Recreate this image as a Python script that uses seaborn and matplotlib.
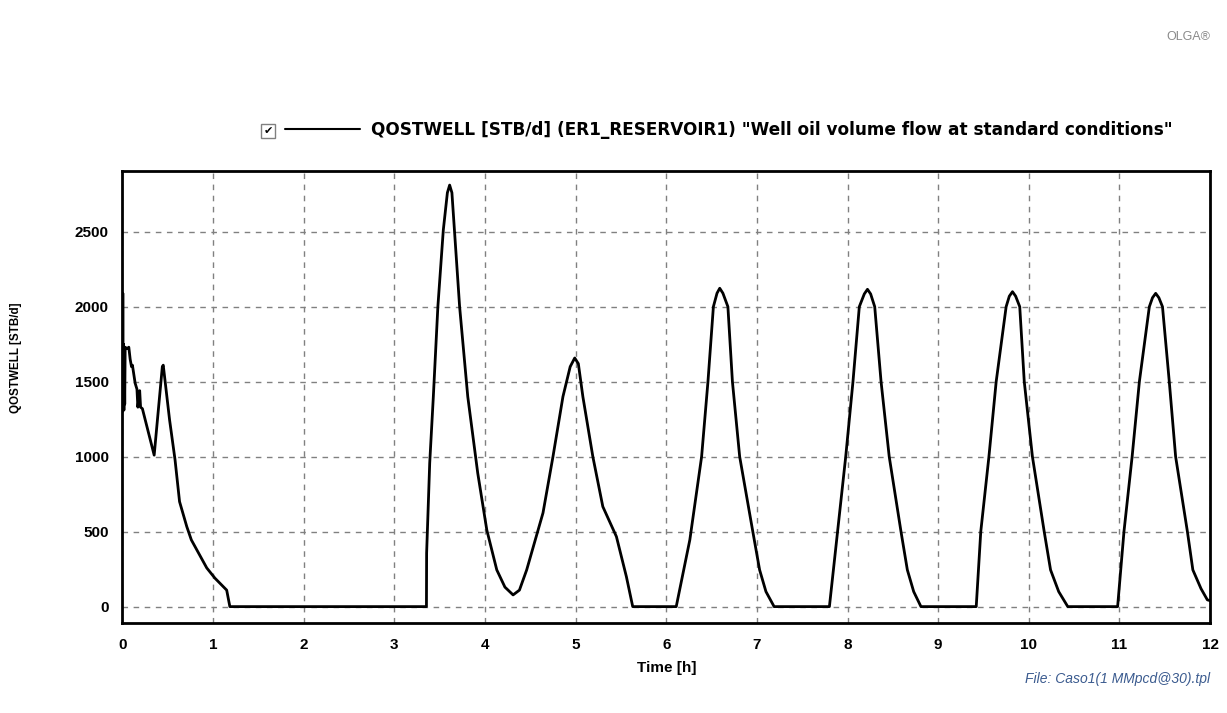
import numpy as np
import pandas as pd
import matplotlib
matplotlib.use("Agg")
import matplotlib.pyplot as plt
import seaborn as sns

# ---- data ----
time_h = [0.0, 0.004, 0.008, 0.012, 0.016, 0.02, 0.025, 0.03, 0.05, 0.07, 0.085, 0.10, 0.11,
          0.14, 0.16, 0.17, 0.19, 0.20, 0.22, 0.35, 0.44, 0.45, 0.52, 0.58, 0.63, 0.71, 0.76,
          0.93, 1.02, 1.15, 1.185, 3.354, 3.356, 3.39, 3.43, 3.48, 3.54, 3.585, 3.61, 3.635,
          3.72, 3.81, 3.92, 4.02, 4.13, 4.22, 4.31, 4.38, 4.46, 4.64, 4.75, 4.86, 4.94, 4.99,
          5.03, 5.08, 5.19, 5.30, 5.45, 5.56, 5.63,
          6.11, 6.26, 6.39, 6.46, 6.52, 6.56, 6.59, 6.625, 6.68, 6.73, 6.81, 6.955, 7.03, 7.10, 7.19,
          7.80, 7.89, 7.98, 8.06, 8.13, 8.185, 8.22, 8.255, 8.30, 8.37, 8.46, 8.59, 8.66, 8.73, 8.81,
          9.42, 9.47, 9.56, 9.64, 9.75, 9.785, 9.82, 9.855, 9.90, 9.95, 10.04, 10.17, 10.24, 10.33, 10.43,
          10.98, 11.05, 11.14, 11.22, 11.33, 11.365, 11.40, 11.435, 11.475, 11.55, 11.62, 11.75, 11.81,
          11.90, 11.97, 12.0]
qostwell = [1300, 2090, 1400, 1750, 1310, 1700, 1350, 1730, 1720, 1730, 1650, 1600, 1610,
            1490, 1450, 1330, 1440, 1330, 1320, 1010, 1600, 1610, 1245, 980, 700, 533, 445,
            258, 190, 110, 0, 0, 357, 957, 1400, 2000, 2511, 2760, 2811, 2760,
            2000, 1400, 890, 511, 245, 130, 78, 110, 245, 625, 1000, 1400, 1600, 1658,
            1620, 1400, 1000, 667, 467, 200, 0,
            0, 445, 1000, 1500, 2000, 2090, 2123, 2090, 2000, 1500, 1000, 500, 245, 100, 0,
            0, 500, 1000, 1500, 2000, 2085, 2116, 2085, 2000, 1500, 1000, 500, 245, 100, 0,
            0, 500, 1000, 1500, 2000, 2070, 2100, 2070, 2000, 1500, 1000, 500, 245, 100, 0,
            0, 500, 1000, 1500, 2000, 2060, 2089, 2060, 2000, 1500, 1000, 500, 245,
            120, 45, 40]

x_ticks = list(range(0, 13))
y_ticks = [0, 500, 1000, 1500, 2000, 2500]

series_label = 'QOSTWELL [STB/d] (ER1_RESERVOIR1) "Well oil volume flow at standard conditions"'
x_label = "Time [h]"
y_label = "QOSTWELL [STB/d]"
file_note = "File: Caso1(1 MMpcd@30).tpl"
brand = "OLGA\u00ae"

df = pd.DataFrame({"time": time_h, "value": qostwell})

sns.set_style("white")
plt.rcParams["font.family"] = ["Liberation Sans", "DejaVu Sans"]
plt.rcParams["text.color"] = "black"
plt.rcParams["axes.labelcolor"] = "black"
plt.rcParams["xtick.labelcolor"] = "black"
plt.rcParams["ytick.labelcolor"] = "black"

fig = plt.figure(figsize=(12.27, 7.13), dpi=100)
ax = fig.add_axes([0.0998, 0.1267, 0.8864, 0.6339])

sns.lineplot(data=df, x="time", y="value", ax=ax, color="black", linewidth=2.0,
             label=series_label, estimator=None, sort=False)

ax.set_xlim(0, 12)
ax.set_ylim(-107, 2907)
ax.set_xticks(x_ticks)
ax.set_yticks(y_ticks)
ax.set_xticklabels([str(v) for v in x_ticks], fontsize=11, fontweight="bold")
ax.set_yticklabels([str(v) for v in y_ticks], fontsize=11, fontweight="bold")
ax.grid(True, color="#808080", linestyle=(0, (4, 4)), linewidth=1.0)
ax.tick_params(axis="x", which="major", length=4, width=1, color="#808080",
               direction="out", pad=7)
ax.tick_params(axis="y", which="major", length=4, width=1, color="#808080",
               direction="out", pad=6)
for sp in ax.spines.values():
    sp.set_visible(True)
    sp.set_color("black")
    sp.set_linewidth(2.0)

ax.set_xlabel(x_label, fontsize=11, fontweight="bold")
ax.xaxis.set_label_coords(0.5, 1 - (668 - 170.7) / (622.7 - 170.7), transform=ax.transAxes)
ax.set_ylabel(y_label, fontsize=8.4, fontweight="bold")
ax.yaxis.set_label_coords((16 - 122.5) / (1210 - 122.5), (622.7 - 358) / (622.7 - 170.7),
                          transform=ax.transAxes)
ax.xaxis.label.set_va("center")
ax.yaxis.label.set_va("center")

leg = ax.legend(loc="center left", bbox_to_anchor=(285 / 1227, 1 - 130 / 713),
                bbox_transform=fig.transFigure, frameon=False, handlelength=4.4,
                handletextpad=0.7, borderpad=0, borderaxespad=0,
                prop={"size": 12.2, "weight": "bold", "family": "DejaVu Sans"})
for line in leg.get_lines():
    line.set_linewidth(1.5)

fig.text(268 / 1227, 1 - 131 / 713, "\u2714", fontsize=8, ha="center", va="center",
         family="DejaVu Sans",
         bbox=dict(boxstyle="square,pad=0.2", fc="white", ec="#808080", lw=1))

fig.text(1210 / 1227, 1 - 37 / 713, brand, fontsize=9, color="#8a8a8a",
         ha="right", va="center")
fig.text(1210 / 1227, 1 - 679 / 713, file_note, fontsize=10, color="#3b5b8f",
         style="italic", ha="right", va="center")

fig.savefig("out.png", dpi=100)
